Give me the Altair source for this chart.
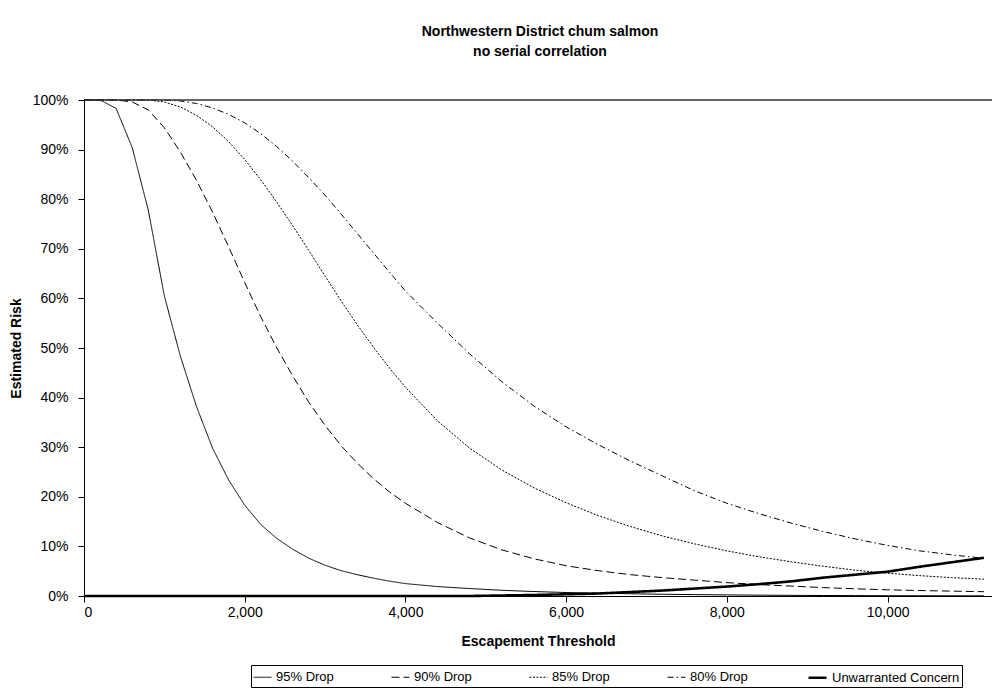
import altair as alt
import pandas as pd

# Escapement threshold values (x)
thresholds = [0, 200, 400, 600, 800, 1000, 1200, 1400, 1600, 1800, 2000,
              2200, 2400, 2600, 2800, 3000, 3200, 3400, 3600, 3800, 4000,
              4400, 4800, 5200, 5600, 6000, 6400, 6800, 7200, 7600, 8000,
              8400, 8800, 9200, 9600, 10000, 10400, 10800, 11200]

series_names = ["95% Drop", "90% Drop", "85% Drop", "80% Drop", "Unwarranted Concern"]

drop95 = [100, 100, 98.3, 90.4, 77.8, 60.5, 48.3, 38.2, 29.8, 23.4, 18.3,
          14.4, 11.6, 9.4, 7.6, 6.2, 5.1, 4.3, 3.6, 3.0, 2.5,
          1.9, 1.5, 1.15, 0.9, 0.7, 0.55, 0.45, 0.35, 0.28, 0.22,
          0.17, 0.13, 0.1, 0.08, 0.06, 0.05, 0.04, 0.03]

drop90 = [100, 100, 100, 99.6, 98.0, 94.4, 89.5, 83.8, 77.4, 70.4, 63.2,
          56.3, 50.0, 44.3, 39.0, 34.4, 30.3, 26.8, 23.7, 21.0, 18.7,
          14.8, 11.7, 9.3, 7.5, 6.1, 5.1, 4.3, 3.7, 3.2, 2.7,
          2.3, 2.0, 1.7, 1.45, 1.25, 1.1, 0.98, 0.87]

drop85 = [100, 100, 100, 100, 100, 99.6, 98.6, 96.9, 94.6, 91.6, 88.0,
          83.9, 79.4, 74.6, 69.6, 64.5, 59.5, 54.7, 50.2, 46.0, 42.1,
          35.3, 29.8, 25.4, 21.8, 18.8, 16.2, 14.0, 12.1, 10.5, 9.1,
          7.9, 6.9, 6.0, 5.2, 4.6, 4.1, 3.7, 3.4]

drop80 = [100, 100, 100, 100, 100, 100, 99.8, 99.3, 98.4, 97.1, 95.4,
          93.2, 90.6, 87.6, 84.3, 80.8, 77.0, 73.1, 69.2, 65.3, 61.5,
          55.0, 48.8, 43.2, 38.3, 34.1, 30.5, 27.2, 24.2, 21.2, 18.7,
          16.6, 14.7, 13.0, 11.5, 10.2, 9.1, 8.3, 7.6]

unwarranted = [0, 0, 0, 0, 0, 0, 0, 0, 0, 0, 0,
               0, 0, 0, 0, 0, 0, 0, 0, 0, 0,
               0, 0, 0.1, 0.2, 0.35, 0.5, 0.8, 1.1, 1.5, 1.9,
               2.4, 2.95, 3.7, 4.3, 4.9, 5.9, 6.8, 7.7]

x_ticks = [0, 2000, 4000, 6000, 8000, 10000]
y_ticks = [0, 10, 20, 30, 40, 50, 60, 70, 80, 90, 100]

rows = []
for name, vals in zip(series_names, [drop95, drop90, drop85, drop80, unwarranted]):
    for xv, yv in zip(thresholds, vals):
        rows.append({"threshold": xv, "risk": yv, "series": name})
df = pd.DataFrame(rows)

FONT = "Liberation Sans"
FS = 14

dash_range = [[1, 0], [8, 4], [2, 1.5], [6, 3, 1.5, 3], [1, 0]]
width_range = [1, 1, 1, 1, 2.6]

legend_opts = dict(
    title=None, orient="none", legendX=167, legendY=565,
    direction="horizontal", symbolType="stroke", symbolSize=324,
    symbolStrokeColor="black", labelFont=FONT, labelFontSize=13,
    labelColor="black", labelOffset=4, columnPadding=55,
    strokeColor="black", padding=2, labelLimit=300,
)

lines = alt.Chart(df).mark_line(color="black").encode(
    x=alt.X("threshold:Q",
            scale=alt.Scale(domain=[0, 11300], nice=False, zero=False),
            axis=alt.Axis(values=x_ticks, format=",d", title="Escapement Threshold",
                          titlePadding=15, labelPadding=3)),
    y=alt.Y("risk:Q",
            scale=alt.Scale(domain=[0, 100], nice=False),
            axis=alt.Axis(values=y_ticks, labelExpr="datum.value + '%'",
                          title="Estimated Risk", titlePadding=9,
                          labelPadding=10)),
    strokeDash=alt.StrokeDash("series:N",
                              scale=alt.Scale(domain=series_names, range=dash_range),
                              legend=alt.Legend(**legend_opts)),
    strokeWidth=alt.StrokeWidth("series:N",
                                scale=alt.Scale(type="ordinal", domain=series_names,
                                                range=width_range),
                                legend=alt.Legend(**legend_opts)),
)

top_df = pd.DataFrame({"risk": [100]})
top_line = alt.Chart(top_df).mark_rule(color="#333333", strokeWidth=1.5).encode(
    y=alt.Y("risk:Q")
)

chart = alt.layer(lines, top_line).properties(
    width=908, height=496,
    autosize=alt.AutoSizeParams(type="none"),
    padding={"left": 76, "top": 92, "right": 0, "bottom": 94},
    title=alt.TitleParams(
        text=["Northwestern District chum salmon", "no serial correlation"],
        font=FONT, fontSize=FS, fontWeight="bold", color="black",
        anchor="middle", offset=34, lineHeight=20, dx=2,
    ),
).configure_view(stroke=None).configure_axis(
    grid=False, domainColor="black", tickColor="black", tickSize=6,
    labelColor="black", labelFont=FONT, labelFontSize=FS,
    titleFont=FONT, titleFontSize=FS, titleFontWeight="bold", titleColor="black",
    domainWidth=1, tickWidth=1,
)

chart.save("out.html", embed_options={"renderer": "svg", "actions": False})
